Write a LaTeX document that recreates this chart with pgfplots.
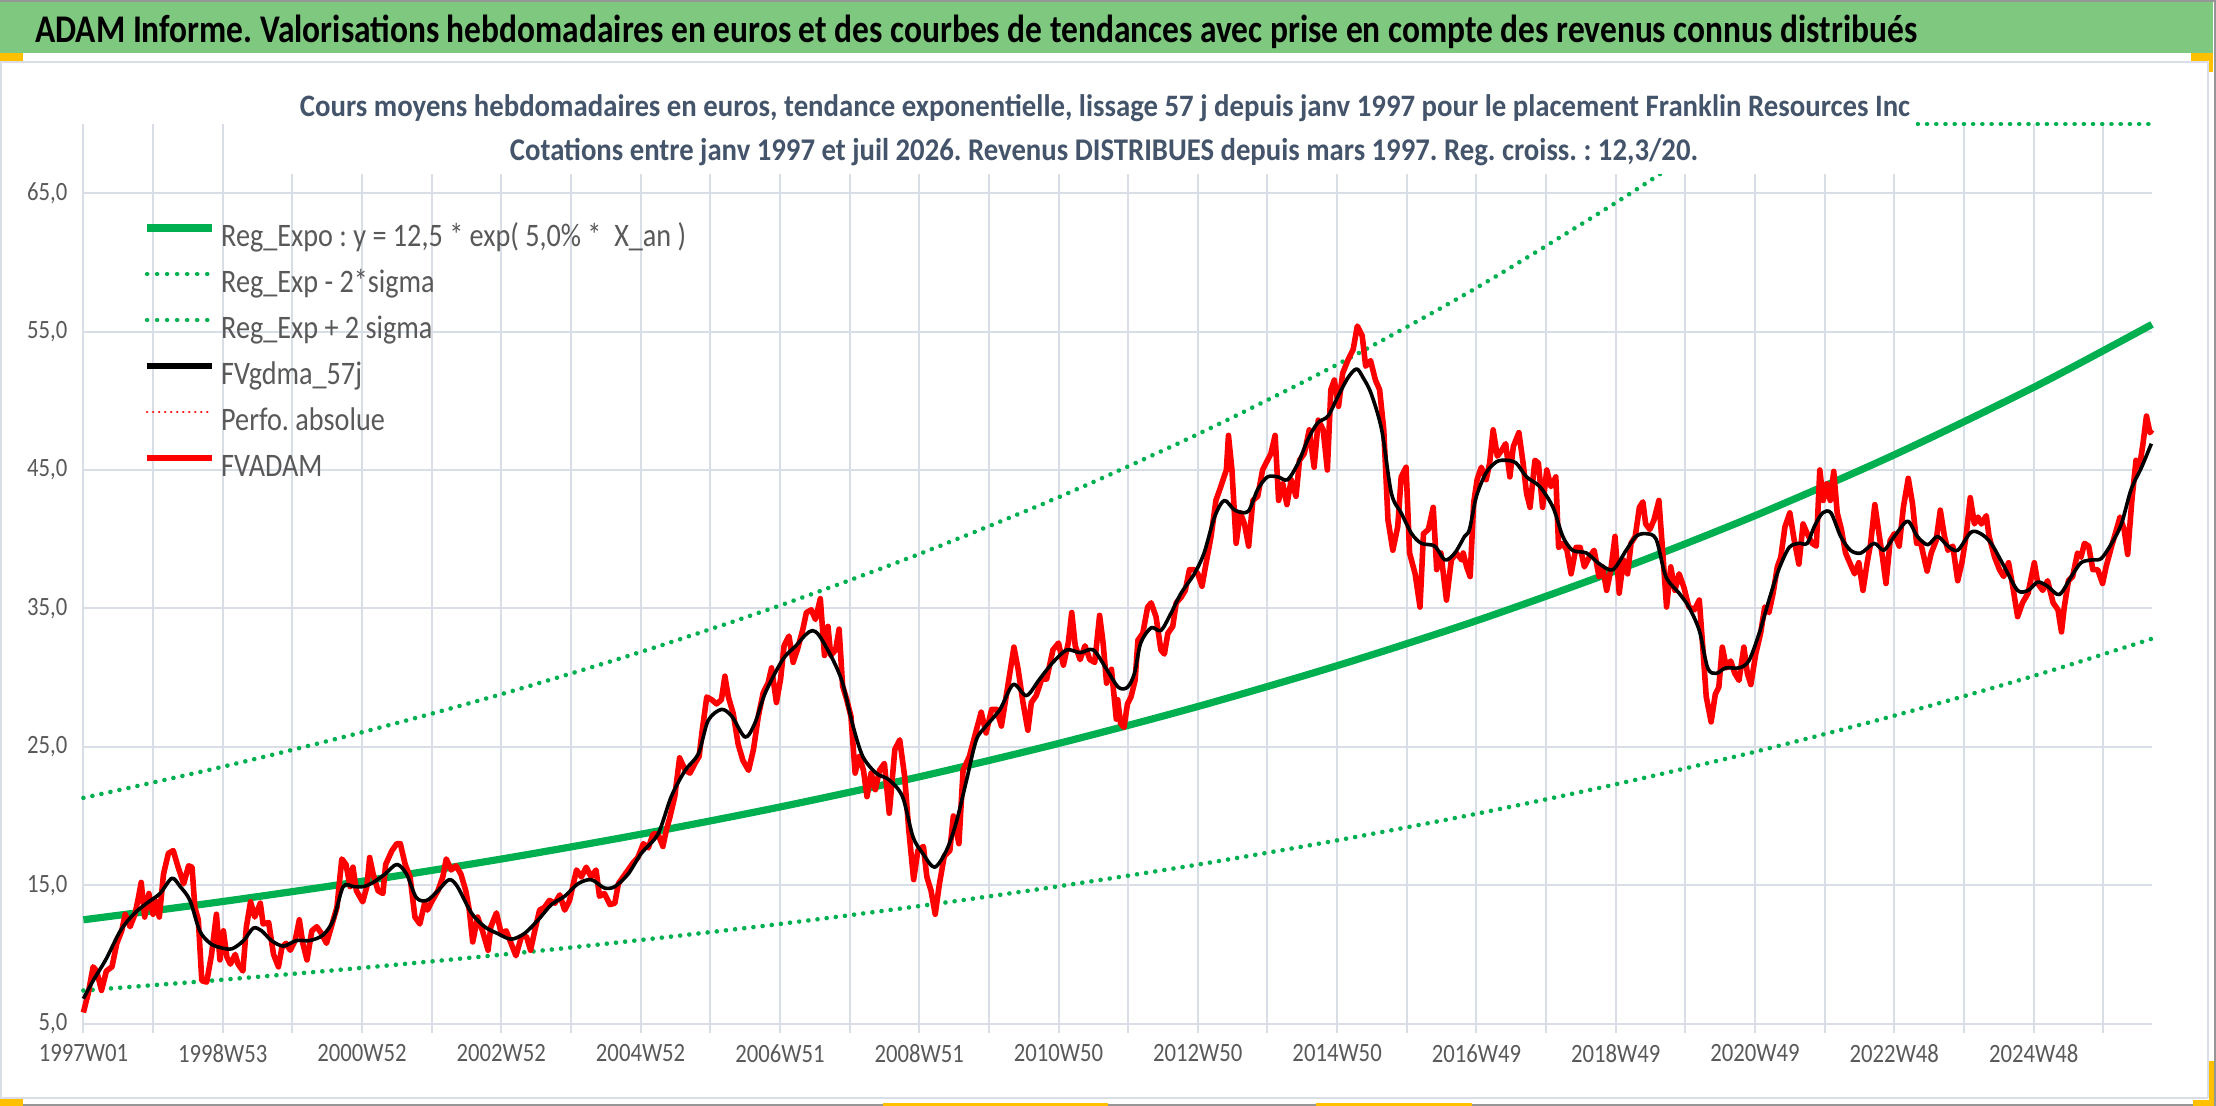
\documentclass[border=0pt]{standalone}
\usepackage{fontspec}
\setmainfont{Carlito}[FakeStretch=0.86]
\usepackage{graphicx}
\usepackage{pgfplots}
\pgfplotsset{compat=1.18}
\frenchspacing
\definecolor{bandgreen}{RGB}{127,200,127}
\definecolor{xlgreen}{RGB}{0,176,80}
\definecolor{gridc}{RGB}{217,221,229}
\definecolor{subt}{RGB}{68,84,106}
\definecolor{ticklab}{RGB}{89,89,89}
\definecolor{handle}{RGB}{255,192,0}
\definecolor{framec}{RGB}{150,150,150}
\begin{document}
\begin{tikzpicture}[x=1pt,y=1pt]
\useasboundingbox (0,0) rectangle (1108,553);
\fill[white] (0,0) rectangle (1108,553);
\fill[bandgreen] (0,526.5) rectangle (1106.5,552.3);
\draw[framec, line width=0.8pt] (0,552.6) -- (1108,552.6);
\draw[framec, line width=0.8pt] (1107.6,553) -- (1107.6,0);
\draw[framec, line width=0.8pt] (0,0.4) -- (1108,0.4);
\draw[gridc, line width=1pt] (0,522) -- (1104,522);
\draw[gridc, line width=1pt] (1104,522) -- (1104,4);
\draw[gridc, line width=1pt] (0,4) -- (1104,4);
\draw[gridc, line width=1pt] (0.5,522) -- (0.5,4);
\fill[handle] (0,522.5) rectangle (11.5,526.5);
\fill[handle] (1095.5,522.5) rectangle (1106.5,526.5);
\fill[handle] (1104.5,517) rectangle (1106.5,522.5);
\fill[handle] (0,0) rectangle (11.5,3.5);
\fill[handle] (441.5,0) rectangle (554,1.5);
\fill[handle] (658,0) rectangle (736,1.5);
\fill[handle] (1096.5,0) rectangle (1107,3);
\fill[handle] (1104.5,0) rectangle (1107,22.5);
\begin{axis}[
  at={(41.7pt,41.2pt)}, anchor=south west, scale only axis,
  width=1034.3pt, height=449.8pt,
  xmin=0, xmax=29.70, ymin=5, ymax=70,
  clip=false,
  separate axis lines,
  axis x line*=bottom,
  axis y line*=left,
  x axis line style={draw=gridc, line width=1pt, -},
  y axis line style={draw=none},
  xtick={0,...,29},
  xticklabels={1997W01,,1998W53,,2000W52,,2002W52,,2004W52,,2006W51,,2008W51,,2010W50,,2012W50,,2014W50,,2016W49,,2018W49,,2020W49,,2022W48,,2024W48,,},
  ytick={5,15,25,35,45,55,65},
  yticklabels={{5,0},{15,0},{25,0},{35,0},{45,0},{55,0},{65,0}},
  xmajorgrids, ymajorgrids,
  grid style={draw=gridc, line width=1pt},
  tick align=outside,
  major tick length=4.5pt,
  xtick style={draw=gridc, line width=1pt},
  ytick style={draw=none},
  xticklabel style={font=\fontsize{13.2pt}{15pt}\selectfont, text=ticklab, yshift=-2.5pt},
  yticklabel style={font=\fontsize{13.2pt}{15pt}\selectfont, text=ticklab},
  legend style={draw=none, fill=none, at={(0.02905,0.8997)}, anchor=north west,
    inner sep=0pt, outer sep=0pt, row sep=0pt,
    font=\fontsize{16.4pt}{19pt}\selectfont, text=ticklab,
    nodes={inner sep=0pt, text height=16pt, text depth=7pt},
    /tikz/every odd column/.append style={column sep=2.75pt}},
  legend cell align=left,
  legend image code/.code={\draw[#1] (0pt,4.6pt) -- (32.5pt,4.6pt);},
]
\addlegendimage{xlgreen, line width=3.6pt}
\addlegendentry{Reg\_Expo : y = 12,5 * exp( 5,0\% *~ X\_an )}
\addlegendimage{xlgreen, line width=2.3pt, line cap=round, dash pattern=on 0.01pt off 5pt}
\addlegendentry{Reg\_Exp - 2*sigma}
\addlegendimage{xlgreen, line width=2.3pt, line cap=round, dash pattern=on 0.01pt off 5pt}
\addlegendentry{Reg\_Exp + 2 sigma}
\addlegendimage{black, line width=2.6pt}
\addlegendentry{FVgdma\_57j}
\addlegendimage{red, line width=1.4pt, line cap=round, dash pattern=on 0.01pt off 3pt}
\addlegendentry{Perfo. absolue}
\addlegendimage{red, line width=3.4pt}
\addlegendentry{FVADAM}

% +2 sigma
\addplot[forget plot, xlgreen, line width=2.3pt, line cap=round, dash pattern=on 0.01pt off 4.6pt, smooth] coordinates {
(0,21.31)(2,23.56)(4,26.05)(6,28.80)(8,31.85)(10,35.21)(12,38.93)(14,43.03)(16,47.59)(18,52.62)(20,58.16)(22,64.31)(23,67.62)(23.69,70.0)};
\addplot[forget plot, xlgreen, line width=2.3pt, line cap=round, dash pattern=on 0.01pt off 4.6pt] coordinates {
(23.69,70.0)(29.70,70.0)};
% -2 sigma
\addplot[forget plot, xlgreen, line width=2.3pt, line cap=round, dash pattern=on 0.01pt off 4.6pt, smooth] coordinates {
(0,7.39)(2,8.17)(4,9.03)(6,9.98)(8,11.04)(10,12.20)(12,13.49)(14,14.92)(16,16.49)(18,18.24)(20,20.16)(22,22.29)(24,24.64)(26,27.25)(28,30.12)(29.70,32.81)};
% regression
\addplot[forget plot, xlgreen, line width=3.6pt, smooth] coordinates {
(0,12.50)(2,13.82)(4,15.28)(6,16.89)(8,18.68)(10,20.65)(12,22.83)(14,25.24)(16,27.91)(18,30.86)(20,34.11)(22,37.72)(24,41.70)(26,46.10)(28,50.97)(29.70,55.52)};
% FVADAM
\addplot[forget plot, red, line width=2.8pt, line join=round] coordinates {
(0.00,5.8)(0.07,7.2)(0.14,9.1)(0.19,8.8)(0.26,7.4)(0.33,8.8)(0.41,9.1)(0.48,10.8)(0.55,11.7)(0.60,12.9)(0.67,12.0)(0.74,12.9)(0.79,14.1)(0.83,15.2)(0.88,12.7)(0.94,14.4)(1.00,12.9)(1.03,13.9)(1.09,12.7)(1.15,15.8)(1.22,17.3)(1.29,17.5)(1.36,16.3)(1.44,15.1)(1.51,16.4)(1.56,16.3)(1.60,13.4)(1.65,12.5)(1.70,8.1)(1.77,8.0)(1.84,10.0)(1.91,12.9)(1.96,9.6)(2.01,11.7)(2.06,9.8)(2.11,9.3)(2.18,10.0)(2.22,9.3)(2.29,8.8)(2.34,12.0)(2.40,13.8)(2.46,12.7)(2.54,13.7)(2.58,12.2)(2.66,12.3)(2.73,10.0)(2.80,9.1)(2.85,10.5)(2.91,10.8)(2.97,10.3)(3.04,11.0)(3.10,12.5)(3.15,10.8)(3.21,9.6)(3.28,11.7)(3.35,12.0)(3.42,11.5)(3.49,10.8)(3.56,12.0)(3.64,13.4)(3.71,16.9)(3.77,16.5)(3.83,14.9)(3.87,16.3)(3.92,14.6)(4.01,13.8)(4.07,14.9)(4.11,17.0)(4.16,15.8)(4.23,14.6)(4.30,14.4)(4.34,16.5)(4.43,17.5)(4.50,18.0)(4.55,18.0)(4.62,16.5)(4.69,15.6)(4.76,12.7)(4.83,12.2)(4.90,13.7)(4.94,13.2)(5.01,13.9)(5.09,14.6)(5.16,15.6)(5.21,16.9)(5.28,16.1)(5.35,16.4)(5.42,15.8)(5.49,14.6)(5.54,13.2)(5.59,10.9)(5.66,12.7)(5.73,11.7)(5.81,10.3)(5.85,12.0)(5.93,13.0)(6.00,11.5)(6.07,11.7)(6.14,10.8)(6.21,9.9)(6.29,11.3)(6.36,11.3)(6.42,10.3)(6.48,11.7)(6.55,13.2)(6.62,13.4)(6.69,13.9)(6.77,13.7)(6.84,14.3)(6.91,13.2)(6.98,13.9)(7.08,16.1)(7.15,15.6)(7.22,16.3)(7.29,15.6)(7.36,16.1)(7.41,14.2)(7.48,14.4)(7.56,13.6)(7.63,13.7)(7.68,15.1)(7.75,15.6)(7.82,16.1)(7.89,16.6)(7.96,17.0)(8.04,18.0)(8.11,17.7)(8.18,18.7)(8.25,18.7)(8.32,17.8)(8.37,19.0)(8.42,19.9)(8.49,21.4)(8.56,24.2)(8.64,23.3)(8.71,23.1)(8.78,23.8)(8.84,24.3)(8.88,26.0)(8.95,28.6)(9.02,28.4)(9.09,28.1)(9.16,28.4)(9.21,30.1)(9.26,28.6)(9.33,27.4)(9.40,25.2)(9.47,24.0)(9.55,23.3)(9.62,24.8)(9.69,27.2)(9.76,28.9)(9.83,29.6)(9.88,30.7)
(9.95,28.2)(10.01,29.9)(10.06,32.3)(10.13,33.0)(10.19,31.1)(10.25,32.0)(10.33,33.5)(10.38,34.7)(10.45,34.9)(10.51,34.2)(10.58,35.7)(10.64,31.6)(10.69,33.7)(10.73,31.6)(10.80,32.0)(10.85,33.5)(10.90,29.4)(10.96,28.4)(11.02,27.2)(11.08,23.1)(11.14,24.3)(11.20,23.3)(11.25,21.4)(11.31,23.1)(11.37,21.9)(11.43,23.3)(11.50,23.8)(11.57,20.2)(11.65,24.8)(11.72,25.5)(11.79,22.9)(11.85,19.0)(11.92,15.4)(11.98,17.5)(12.06,17.8)(12.11,15.6)(12.17,14.6)(12.23,12.9)(12.29,15.1)(12.36,17.1)(12.44,17.5)(12.49,20.0)(12.57,18.0)(12.63,23.3)(12.72,24.3)(12.82,26.2)(12.89,27.5)(12.96,26.0)(13.04,27.7)(13.11,27.7)(13.18,26.5)(13.25,28.7)(13.31,30.6)(13.36,32.2)(13.42,30.6)(13.49,28.2)(13.56,26.2)(13.61,28.2)(13.68,28.7)(13.76,29.9)(13.83,29.9)(13.92,32.0)(14.00,32.5)(14.07,30.9)(14.14,32.5)(14.19,34.7)(14.24,32.3)(14.31,31.3)(14.38,32.3)(14.45,31.3)(14.52,31.1)(14.59,34.5)(14.64,32.5)(14.69,29.6)(14.76,30.6)(14.83,27.0)
(14.85,28.4)(14.89,26.7)(14.94,26.4)(14.99,28.1)(15.04,28.6)(15.10,29.8)(15.14,32.7)(15.21,33.2)(15.28,35.1)(15.33,35.4)(15.40,34.4)(15.47,32.0)(15.52,31.7)(15.57,33.2)(15.64,33.7)(15.69,35.4)(15.76,35.8)(15.82,36.3)(15.88,37.8)(15.95,37.8)(16.00,37.5)(16.06,36.6)(16.12,38.3)(16.19,40.2)(16.26,42.8)(16.33,43.8)(16.41,45.0)(16.44,47.5)(16.49,45.0)(16.55,39.7)(16.61,41.9)(16.67,41.1)(16.73,39.5)(16.79,42.8)(16.86,43.1)(16.93,45.0)(17.00,45.7)(17.05,46.2)(17.11,47.5)(17.16,42.8)(17.22,44.0)(17.28,42.5)(17.34,44.3)(17.41,43.1)(17.46,45.7)(17.53,46.2)(17.60,47.9)(17.67,45.2)(17.73,48.6)(17.80,47.9)(17.86,45.0)(17.91,50.8)(17.96,51.5)(18.02,49.6)(18.08,52.0)(18.16,53.0)(18.23,53.7)(18.29,55.4)(18.36,54.7)(18.41,52.5)(18.48,52.9)(18.55,51.5)(18.61,50.8)(18.67,47.9)(18.73,41.4)(18.80,39.2)(18.87,40.9)(18.92,44.5)(18.99,45.2)(19.04,39.0)(19.12,37.5)(19.19,35.1)(19.24,40.4)(19.31,40.7)(19.38,42.3)(19.43,37.8)(19.49,39.0)(19.57,35.6)(19.64,38.5)(19.71,39.0)(19.79,38.5)
(19.81,39.0)(19.86,38.0)(19.91,37.3)(19.96,42.6)(20.01,44.3)(20.07,45.2)(20.14,44.3)(20.19,45.5)(20.24,47.9)(20.30,46.0)(20.36,46.4)(20.42,46.9)(20.48,44.5)(20.53,46.7)(20.61,47.7)(20.67,45.5)(20.72,43.3)(20.77,42.3)(20.84,45.7)(20.89,45.5)(20.95,42.3)(21.01,45.0)(21.07,43.8)(21.14,44.5)(21.18,39.4)(21.24,39.7)(21.30,39.2)(21.36,37.5)(21.43,39.4)(21.49,39.4)(21.55,38.0)(21.62,38.7)(21.69,39.2)(21.76,37.3)(21.81,38.0)(21.87,36.3)(21.93,37.8)(21.99,40.2)(22.05,36.1)(22.11,38.5)(22.17,37.5)(22.22,39.7)(22.28,40.2)(22.34,42.3)(22.39,42.7)(22.43,41.1)(22.49,40.7)(22.55,41.4)(22.62,42.8)(22.67,39.4)(22.73,35.1)(22.79,38.0)(22.85,36.3)(22.91,37.5)(22.98,36.5)(23.05,35.1)(23.13,34.9)(23.20,35.6)(23.25,32.2)(23.30,28.6)(23.37,26.8)(23.43,28.8)(23.48,29.3)(23.53,32.2)(23.59,30.7)(23.65,31.2)(23.71,30.3)(23.77,29.8)(23.84,32.2)(23.89,30.3)(23.94,29.5)(24.01,31.7)(24.08,33.2)(24.14,35.1)(24.20,34.7)(24.26,36.1)(24.32,38.0)(24.37,38.7)(24.43,40.9)(24.50,41.9)(24.56,40.0)(24.63,38.2)(24.69,41.1)(24.75,40.4)
(24.82,39.7)(24.88,39.5)(24.93,45.0)(24.98,42.8)(25.03,44.0)(25.08,42.8)(25.13,44.9)(25.18,41.9)(25.24,40.7)(25.30,39.0)(25.36,38.3)(25.43,37.5)(25.49,38.3)(25.55,36.3)(25.61,38.3)(25.66,39.7)(25.72,42.5)(25.78,40.4)(25.83,38.7)(25.88,36.8)(25.94,39.9)(26.00,40.4)(26.07,39.5)(26.13,42.3)(26.20,44.4)(26.26,42.6)(26.32,39.7)(26.38,39.7)(26.47,37.7)(26.53,39.0)(26.60,39.9)(26.66,42.1)(26.72,40.2)(26.77,39.2)(26.84,39.5)(26.91,37.0)(26.97,38.3)(27.03,40.2)(27.09,43.0)(27.15,41.1)(27.20,41.6)(27.25,41.1)(27.32,41.7)(27.36,40.2)(27.44,38.7)(27.51,37.8)(27.57,37.3)(27.64,38.3)(27.70,36.6)(27.77,34.4)(27.84,35.4)(27.92,36.1)(28.01,38.3)(28.06,36.8)(28.13,36.3)(28.20,37.0)(28.28,35.4)(28.35,34.9)(28.40,33.3)(28.44,35.1)(28.50,37.0)(28.56,37.3)(28.63,39.0)(28.68,38.7)(28.73,39.7)(28.79,39.5)(28.85,37.8)(28.92,37.8)(28.99,36.8)(29.04,38.0)(29.12,39.5)(29.19,40.7)(29.24,41.6)(29.30,40.7)(29.35,38.9)(29.41,42.8)(29.47,45.7)(29.52,45.2)(29.57,46.9)(29.62,48.9)(29.67,47.7)(29.70,47.9)};
% FVgdma_57j
\addplot[forget plot, black, line width=1.8pt, line join=round, smooth] coordinates {
(0.00,6.8)(0.14,8.1)(0.33,9.7)(0.53,11.7)(0.72,12.9)(0.91,13.7)(1.10,14.4)(1.27,15.5)(1.39,14.9)(1.53,13.9)(1.67,11.7)(1.82,10.8)(1.96,10.5)(2.13,10.4)(2.30,11.0)(2.44,11.9)(2.56,11.7)(2.70,11.0)(2.87,10.6)(3.06,11.0)(3.25,11.0)(3.44,11.4)(3.59,12.5)(3.73,14.9)(3.88,14.9)(4.02,14.9)(4.16,15.2)(4.33,15.8)(4.50,16.5)(4.64,15.8)(4.78,14.1)(4.93,13.9)
(5.09,14.6)(5.25,15.4)(5.37,14.9)(5.57,13.0)(5.76,12.0)(5.95,11.5)(6.14,11.1)(6.33,11.5)(6.53,12.5)(6.72,13.6)(6.91,14.2)(7.10,15.1)(7.29,15.4)(7.48,14.8)(7.63,14.9)(7.82,15.8)(8.01,17.3)(8.25,18.7)(8.44,21.4)(8.64,23.3)(8.83,24.5)(8.97,26.9)(9.16,27.7)(9.31,27.2)(9.50,25.7)(9.64,26.7)(9.79,28.9)
(10.04,31.3)(10.23,32.3)(10.37,33.1)(10.47,33.4)(10.57,33.0)(10.76,31.3)(10.90,29.6)(11.05,26.5)(11.19,24.3)(11.38,23.1)(11.57,22.6)(11.76,21.4)(11.91,18.5)(12.05,17.3)(12.22,16.3)(12.39,17.5)(12.53,19.5)(12.68,22.6)(12.82,25.5)(12.96,26.5)(13.16,27.7)(13.35,29.5)(13.54,28.7)(13.73,29.9)(13.92,31.1)(14.12,32.0)(14.31,31.8)(14.50,32.0)(14.69,30.6)(14.86,29.3)
(14.99,29.3)(15.09,30.3)(15.18,32.5)(15.33,33.6)(15.47,33.4)(15.61,34.6)(15.76,36.1)(15.95,37.5)(16.09,39.0)(16.24,41.6)(16.38,42.8)(16.53,42.1)(16.72,42.0)(16.86,43.6)(17.00,44.5)(17.15,44.5)(17.29,44.3)(17.44,45.5)(17.58,47.2)(17.72,48.4)(17.87,48.9)(18.01,50.3)(18.16,51.7)(18.28,52.3)(18.37,51.7)(18.49,50.5)(18.64,47.9)(18.78,43.3)(18.92,41.9)(19.07,40.4)(19.21,39.7)(19.40,39.5)(19.55,38.5)(19.69,39.0)(19.83,40.2)
(19.90,40.7)(20.00,43.1)(20.14,44.8)(20.29,45.6)(20.43,45.7)(20.57,45.5)(20.72,44.5)(20.91,43.8)(21.10,42.3)(21.24,40.2)(21.38,39.2)(21.58,39.0)(21.77,38.2)(21.96,37.8)(22.15,39.2)(22.29,40.2)(22.43,40.4)(22.58,40.0)(22.72,37.3)(22.91,36.1)(23.05,35.1)(23.20,33.4)(23.32,30.7)(23.44,30.3)(23.58,30.7)(23.77,30.7)(23.91,31.2)(24.06,33.2)(24.20,35.6)(24.34,37.8)(24.49,39.4)(24.63,39.7)(24.75,39.7)
(24.85,40.9)(24.97,41.9)(25.09,41.9)(25.23,40.2)(25.37,39.2)(25.52,39.0)(25.71,39.7)(25.85,39.2)(26.00,40.2)(26.19,41.3)(26.33,40.2)(26.48,39.6)(26.62,40.2)(26.77,39.5)(26.91,39.2)(27.10,40.5)(27.24,40.4)(27.39,39.7)(27.58,38.0)(27.77,36.3)(27.92,36.3)(28.06,36.9)(28.20,36.6)(28.37,36.0)(28.54,37.3)(28.68,38.3)(28.83,38.5)(28.97,38.6)(29.12,39.7)(29.26,41.1)(29.40,43.6)(29.55,45.2)(29.69,46.9)};
\end{axis}
\fill[white] (145,466) rectangle (958,514);
\node[anchor=base, inner sep=0pt, text=subt, font=\bfseries\fontsize{15.6pt}{18pt}\selectfont] at (552.5,494.8) {\resizebox{805pt}{\height}{Cours moyens hebdomadaires en euros, tendance exponentielle, lissage 57 j depuis janv 1997 pour le placement Franklin Resources Inc}};
\node[anchor=base, inner sep=0pt, text=subt, font=\bfseries\fontsize{15.8pt}{18pt}\selectfont] at (552,472.75) {\resizebox{594pt}{\height}{Cotations entre janv 1997 et juil 2026. Revenus DISTRIBUES depuis mars 1997. Reg. croiss. : 12,3/20.}};
\node[anchor=base west, inner sep=0pt, text=black, font=\bfseries\fontsize{19.6pt}{22pt}\selectfont] at (17.5,531.6) {\resizebox{941pt}{\height}{ADAM Informe. Valorisations hebdomadaires en euros et des courbes de tendances avec prise en compte des revenus connus distribués}};
\end{tikzpicture}
\end{document}
